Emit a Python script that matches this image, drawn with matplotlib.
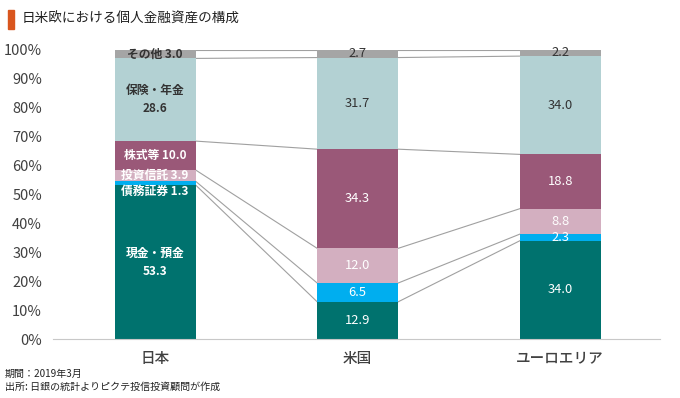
import numpy as np
import matplotlib
matplotlib.use("Agg")
import matplotlib.pyplot as plt
from matplotlib.patches import Rectangle

plt.rcParams["font.family"] = ["Noto Sans CJK JP", "DejaVu Sans"]

# データ (%) — 日銀の統計, 2019年3月
regions = ["日本", "米国", "ユーロエリア"]
series = ["現金・預金", "債務証券", "投資信託", "株式等", "保険・年金", "その他"]
cash = [53.3, 12.9, 34.0]
bonds = [1.3, 6.5, 2.3]
trusts = [3.9, 12.0, 8.8]
stocks = [10.0, 34.3, 18.8]
insurance = [28.6, 31.7, 34.0]
other = [3.0, 2.7, 2.2]
yticks = [0, 10, 20, 30, 40, 50, 60, 70, 80, 90, 100]

COLORS = ["#00726E", "#00AEEF", "#D3AFC0", "#9A5878", "#B3D1D3", "#A5A5A5"]
TXT = ["white", "white", "white", "white", "#333333", "#333333"]
NUM = ["Liberation Sans Narrow", "Noto Sans CJK JP"]

data = np.array([cash, bonds, trusts, stocks, insurance, other])
data_pct = data / data.sum(axis=0) * 100      # 100%積み上げ
tops = np.cumsum(data_pct, axis=0)
bottoms = tops - data_pct

fig = plt.figure(figsize=(6.8, 3.98), dpi=100)
ax = fig.add_axes([0.078, 0.148, 0.893, 0.727])
x = np.arange(len(regions))
w = 0.4

for i in range(len(series)):
    ax.bar(x, data_pct[i], w, bottom=bottoms[i], color=COLORS[i], zorder=2)

# 区分線 (series lines)
for i in range(len(series)):
    for j in range(len(regions) - 1):
        ax.plot([x[j] + w / 2, x[j + 1] - w / 2], [tops[i, j], tops[i, j + 1]],
                color="#A0A0A0", lw=0.8, zorder=1)

# ラベル
for j in range(len(regions)):
    for i in range(len(series)):
        mid = bottoms[i, j] + data_pct[i, j] / 2
        v = f"{data[i, j]:.1f}"
        if j == 0:
            if i in (0, 4):
                s = f"{series[i]}\n{v}"
            else:
                s = f"{series[i]} {v}"
            if i == 1:
                mid = 51.0
            fs = 8.5
        else:
            s = v
            fs = 9.3
        ax.text(x[j], mid, s, ha="center", va="center", color=TXT[i],
                fontsize=fs, fontweight="bold" if j == 0 else "normal",
                family=NUM, linespacing=1.5, zorder=3)

ax.set_xlim(-0.504, 2.494)
ax.set_ylim(0, 100)
ax.set_yticks(yticks)
ax.set_yticklabels([f"{t}%" for t in yticks], family=NUM, fontsize=10.5, color="#404040")
ax.set_xticks(x)
ax.set_xticklabels(regions, fontsize=10.5, fontweight="medium", color="#404040")
ax.tick_params(axis="both", length=0)
ax.tick_params(axis="y", pad=8)
ax.tick_params(axis="x", pad=9)
for sp in ("top", "right", "left"):
    ax.spines[sp].set_visible(False)
ax.spines["bottom"].set_color("#C8C8C8")

# タイトル
fig.patches.append(Rectangle((8 / 680, 1 - 29 / 398), 6 / 680, 19 / 398,
                             transform=fig.transFigure, color="#D9561E"))
fig.text(22 / 680, 1 - 19 / 398, "日米欧における個人金融資産の構成", fontsize=9.8,
         va="center", ha="left", color="#222222")

# 注記
fig.text(5 / 680, 1 - 374 / 398, "期間：2019年3月", fontsize=7.2, va="center", color="#222222")
fig.text(5 / 680, 1 - 387 / 398, "出所: 日銀の統計よりピクテ投信投資顧問が作成", fontsize=7.2,
         va="center", color="#222222")

fig.savefig("out.png", dpi=100)
